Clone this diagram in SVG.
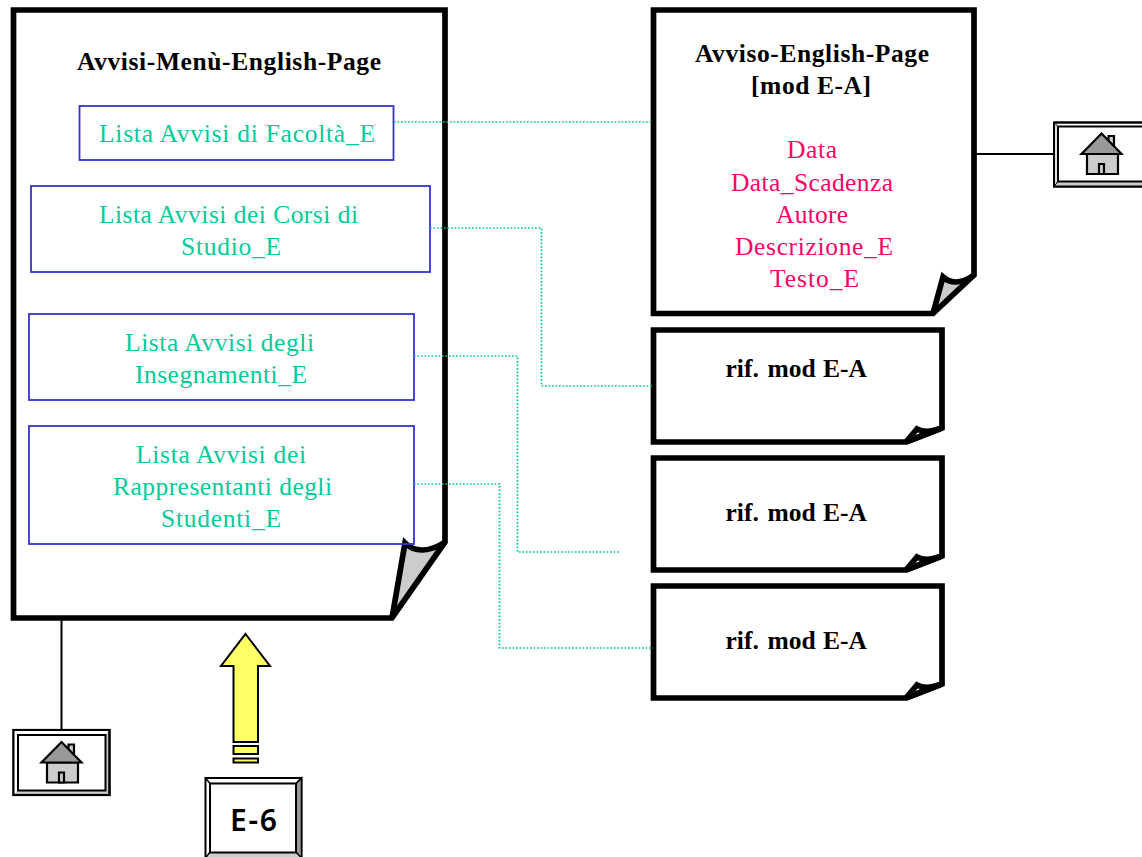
<svg xmlns="http://www.w3.org/2000/svg" width="1142" height="857" viewBox="0 0 1142 857">
<style>
text{font-family:"Liberation Serif","Times New Roman",serif;font-size:25.500px}
.t{font-weight:bold;fill:#000}
.g{fill:#00cc99}
.p{fill:#ff0066}
.doc{fill:#fff;stroke:none}
.out{fill:none;stroke:#000;stroke-width:5.700;stroke-linejoin:miter;stroke-miterlimit:4}
.fill{fill:#ccc}
.fold{fill:none;stroke:#000;stroke-width:5.700;stroke-linejoin:miter;stroke-miterlimit:10}
.box{fill:none;stroke:#3333cc;stroke-width:1.800}
.dot{fill:none;stroke:#00cc99;stroke-width:1.700;stroke-dasharray:1.700 1.800}
.ln{fill:none;stroke:#000;stroke-width:2}
.bo{fill:#fff;stroke:#000;stroke-width:2}
.dk{fill:#999;stroke:#000;stroke-width:2.200}
.lt{fill:#ccc;stroke:#000;stroke-width:2.200}
.ar{fill:#ffff66;stroke:#000;stroke-width:2}
</style>
<defs>
<g id="house">
<path class="lt" d="M7,-18h5.500v14h-5.500z"/>
<path class="lt" d="M-14.500,0H16.500V20H-14.500Z"/>
<path class="dk" d="M0,-20.500L20,0H-20Z"/>
<path class="lt" d="M-2.500,20V10H2.500V20Z"/>
</g>
</defs>
<g id="doc-menu">
<path class="doc" d="M13.500,10H445V542L392,618H13.500Z"/>
<path class="fill" d="M392,618L405,543C415,553 430,552 445,542Z"/>
<path class="fold" d="M392,618L405,543C415,553 430,552 445,542"/>
<path class="out" d="M13.500,10H445V542L392,618H13.500Z"/>
<text class="t" x="77" y="70" textLength="304">Avvisi-Menù-English-Page</text>
</g>
<g id="box-facolta">
<rect class="box" x="79.500" y="106" width="314" height="54"/>
<text class="g" x="99" y="142" textLength="276">Lista Avvisi di Facoltà_E</text>
</g>
<g id="box-corsi">
<rect class="box" x="31" y="186" width="399" height="86"/>
<text class="g" x="99" y="223" textLength="259">Lista Avvisi dei Corsi di</text>
<text class="g" x="181" y="255" textLength="100">Studio_E</text>
</g>
<g id="box-insegnamenti">
<rect class="box" x="29" y="314" width="385" height="86"/>
<text class="g" x="125" y="351" textLength="189">Lista Avvisi degli</text>
<text class="g" x="135" y="383" textLength="172">Insegnamenti_E</text>
</g>
<g id="box-rappresentanti">
<rect class="box" x="29" y="426" width="385" height="118"/>
<text class="g" x="136" y="463" textLength="170">Lista Avvisi dei</text>
<text class="g" x="113" y="495" textLength="219">Rappresentanti degli</text>
<text class="g" x="161" y="527" textLength="120">Studenti_E</text>
</g>
<g id="doc-avviso">
<path class="doc" d="M653.500,10H974V275L933,313.500H653.500Z"/>
<path class="fill" d="M933,313.500L943,277C952,285 964,282 974,275Z"/>
<path class="fold" d="M933,313.500L943,277C952,285 964,282 974,275"/>
<path class="out" d="M653.500,10H974V275L933,313.500H653.500Z"/>
<text class="t" x="695" y="62" textLength="234">Avviso-English-Page</text>
<text class="t" x="751" y="94" textLength="120">[mod E-A]</text>
<text class="p" x="787" y="158" textLength="50">Data</text>
<text class="p" x="731" y="191" textLength="162">Data_Scadenza</text>
<text class="p" x="776" y="223" textLength="72">Autore</text>
<text class="p" x="735" y="255" textLength="158">Descrizione_E</text>
<text class="p" x="770" y="287" textLength="89">Testo_E</text>
</g>
<g id="rif-1">
<path class="doc" d="M653.500,330H942V428L906,442H653.500Z"/>
<path class="fold" d="M906,442L917,429C924,433 934,431 942,428L906,442"/>
<path class="out" d="M653.500,330H942V428L906,442H653.500Z"/>
<text class="t" y="377"><tspan x="725.500">rif.</tspan> <tspan x="767.500">mod</tspan> <tspan x="823">E-A</tspan></text>
</g>
<g id="rif-2">
<path class="doc" d="M653.500,458H942V556L906,570H653.500Z"/>
<path class="fold" d="M906,570L917,557C924,561 934,559 942,556L906,570"/>
<path class="out" d="M653.500,458H942V556L906,570H653.500Z"/>
<text class="t" y="521"><tspan x="725.500">rif.</tspan> <tspan x="767.500">mod</tspan> <tspan x="823">E-A</tspan></text>
</g>
<g id="rif-3">
<path class="doc" d="M653.500,586H942V684L906,698H653.500Z"/>
<path class="fold" d="M906,698L917,685C924,689 934,687 942,684L906,698"/>
<path class="out" d="M653.500,586H942V684L906,698H653.500Z"/>
<text class="t" y="649"><tspan x="725.500">rif.</tspan> <tspan x="767.500">mod</tspan> <tspan x="823">E-A</tspan></text>
</g>
<g id="home-left">
<rect class="lt" x="13.500" y="730" width="96" height="65"/>
<path d="M13.500,730H109.500L105,735H18L18,790L13.500,795Z" fill="#fff"/>
<rect class="bo" x="18" y="735" width="87.500" height="55.500"/>
<path class="ln" d="M13.500,730H109.500V795H13.500Z"/>
<use href="#house" x="61.500" y="762.500"/>
</g>
<g id="home-right">
<rect class="bo" x="1054" y="122.500" width="96" height="64"/>
<path d="M1054,122.500L1058,126.500V181.500L1054,186.500Z" fill="#e0e0e0" stroke="#000" stroke-width="1"/>
<path d="M1058,181.500H1150V186.500H1054Z" fill="#ccc" stroke="#000" stroke-width="1"/>
<rect class="bo" x="1058" y="126.500" width="96" height="55"/>
<path d="M1054,122.500H1150M1054,122.500V186.500H1150" class="ln"/>
<use href="#house" x="1101.500" y="154"/>
</g>
<g id="arrow-up">
<path class="ar" d="M245.500,634L270,666H258V742H233.500V666H221Z"/>
<rect class="ar" x="233.500" y="746" width="24.500" height="8"/>
<rect class="ar" x="233.500" y="758.500" width="24.500" height="4"/>
</g>
<g id="btn-e6">
<rect x="205.500" y="778" width="96" height="80" fill="#fff" stroke="#000" stroke-width="2"/>
<path d="M296,783.500L301.500,778V858H296Z" fill="#999" stroke="#000" stroke-width="1.500"/>
<path d="M210,852H296L301.500,858H205.500Z" fill="#ccc" stroke="#000" stroke-width="1.500"/>
<rect x="210" y="783.500" width="86" height="69" fill="#fff" stroke="#000" stroke-width="2"/>
<path d="M205.500,778L210,783.500M301.500,778L296,783.500" stroke="#000" stroke-width="1.500"/>
<text x="230" y="831" style="font-family:'Noto Sans','Open Sans',sans-serif;font-size:30px;font-weight:600" fill="#000" textLength="47">E-6</text>
</g>
<g id="connectors">
<path class="dot" d="M394,122H653"/>
<path class="dot" d="M430,228H541.500V386H653"/>
<path class="dot" d="M414,356H517.500V552H620"/>
<path class="dot" d="M414,484H499.500V648H653"/>
<path class="ln" d="M61.500,620V730"/>
<path class="ln" d="M976,154H1054"/>
</g>
</svg>
